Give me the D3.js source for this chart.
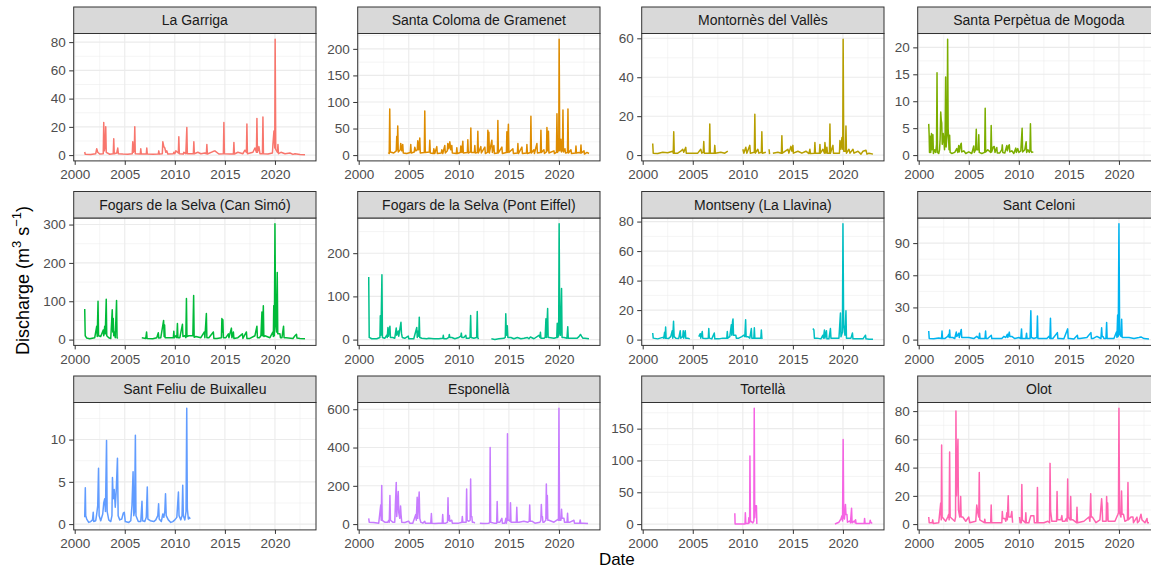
<!DOCTYPE html>
<html>
<head>
<meta charset="utf-8">
<script src="https://cdn.jsdelivr.net/npm/d3@7"></script>
<style>
body { margin: 0; background: #fff; }
svg { display: block; font-family: "Liberation Sans", Arial, sans-serif; }
</style>
</head>
<body>
<svg id="chart" width="1151" height="570"></svg>
<script>
// station names, in facet order
const stations = ["La Garriga", "Santa Coloma de Gramenet", "Montornès del Vallès", "Santa Perpètua de Mogoda",
  "Fogars de la Selva (Can Simó)", "Fogars de la Selva (Pont Eiffel)", "Montseny (La Llavina)", "Sant Celoni",
  "Sant Feliu de Buixalleu", "Esponellà", "Tortellà", "Olot"];

// ggplot hue palette, 12 levels
const colours = ["#F8766D", "#DE8C00", "#B79F00", "#7CAE00", "#00BA38", "#00C08B",
  "#00BFC4", "#00B4F0", "#619CFF", "#C77CFF", "#F564E3", "#FF64B0"];

// [decimal year, discharge]; null = gap in the record
const laGarriga = [[2001.0,2.2],[2001.05,0.6],[2001.6,0.5],[2002.1,1],[2002.2,4.5],[2002.3,2],[2002.5,0.8],[2002.85,1],[2002.9,23],[2002.96,3],[2003.05,8],[2003.1,20],[2003.15,2],[2003.5,0.6],[2003.85,1],[2003.9,11.5],[2003.95,1],[2004.2,1.5],[2004.3,5],[2004.36,1],[2004.8,0.7],[2005.3,0.6],[2005.75,1],[2005.8,9.5],[2005.85,2],[2005.95,3],[2006.0,20],[2006.05,1],[2006.55,0.8],[2006.6,4.5],[2006.65,0.8],[2007.15,0.7],[2007.2,5],[2007.25,0.7],[2007.8,0.6],[2008.35,0.8],[2008.4,3],[2008.45,0.7],[2008.75,1],[2008.8,9.5],[2008.9,6],[2009.0,5],[2009.1,2],[2009.2,3],[2009.3,0.8],[2009.85,1],[2009.9,2],[2010.0,1],[2010.1,3],[2010.35,1.5],[2010.4,13],[2010.45,1],[2010.85,0.8],[2010.9,2],[2011.1,1],[2011.2,19.5],[2011.25,1],[2011.85,1],[2011.9,9.5],[2011.95,1],[2012.3,2],[2012.6,1],[2013.0,1.5],[2013.15,1],[2013.2,7.5],[2013.25,0.8],[2013.8,2.5],[2014.0,3],[2014.4,0.8],[2014.85,1],[2014.9,23],[2014.95,1],[2015.5,0.7],[2015.85,0.8],[2015.9,9],[2015.95,0.8],[2016.3,2],[2016.8,1],[2017.0,3.5],[2017.15,2],[2017.2,22],[2017.25,1],[2017.8,2],[2018.0,5],[2018.15,2],[2018.2,26],[2018.25,2],[2018.4,6],[2018.5,1],[2018.75,1],[2018.8,27],[2018.85,1],[2019.3,0.8],[2019.75,1.5],[2019.8,8],[2019.9,17],[2019.98,5],[2020.02,82],[2020.08,4],[2020.25,2],[2020.3,7.5],[2020.35,1],[2020.6,2],[2021.0,1],[2021.5,1.5],[2021.8,0.5],[2022.0,1],[2022.5,0.5],[2023.0,0.3]];

const santaColoma = [[2002.95,5],[2003.05,3],[2003.1,87],[2003.15,6],[2003.5,4],[2003.75,8],[2003.8,35],[2003.85,10],[2003.9,55],[2003.95,6],[2004.15,10],[2004.2,22],[2004.3,8],[2004.4,20],[2004.45,4],[2004.8,3],[2005.15,5],[2005.2,20],[2005.25,4],[2005.55,6],[2005.6,15],[2005.7,8],[2005.85,10],[2005.9,27],[2006.0,10],[2006.1,32],[2006.15,4],[2006.55,5],[2006.6,83],[2006.65,5],[2007.05,6],[2007.1,28],[2007.15,4],[2007.45,3],[2007.5,12],[2007.6,3],[2007.8,16],[2007.85,3],[2008.25,4],[2008.3,10],[2008.4,3],[2008.6,18],[2008.65,4],[2008.85,8],[2008.9,22],[2009.0,12],[2009.1,25],[2009.2,10],[2009.3,18],[2009.35,4],[2009.75,3],[2009.8,14],[2009.85,3],[2010.15,5],[2010.2,17],[2010.3,5],[2010.4,26],[2010.45,4],[2010.85,5],[2010.9,29],[2010.95,4],[2011.15,6],[2011.2,51],[2011.25,5],[2011.55,5],[2011.6,18],[2011.65,4],[2011.85,5],[2011.9,45],[2011.95,4],[2012.2,16],[2012.25,4],[2012.6,15],[2012.65,3],[2012.85,5],[2012.9,47],[2012.95,6],[2013.0,43],[2013.05,4],[2013.3,28],[2013.35,5],[2013.5,18],[2013.55,3],[2013.85,4],[2013.9,65],[2013.95,4],[2014.3,15],[2014.35,3],[2014.75,5],[2014.8,44],[2014.85,5],[2014.95,58],[2015.0,5],[2015.4,12],[2015.45,3],[2015.85,4],[2015.9,22],[2015.95,3],[2016.3,15],[2016.35,3],[2016.75,4],[2016.8,20],[2016.85,3],[2017.15,5],[2017.2,73],[2017.25,4],[2017.5,10],[2017.55,3],[2017.8,22],[2017.85,4],[2018.15,5],[2018.2,47],[2018.25,5],[2018.5,10],[2018.55,3],[2018.75,6],[2018.8,52],[2018.9,8],[2018.95,45],[2019.0,4],[2019.5,8],[2019.55,3],[2019.75,5],[2019.8,78],[2019.85,5],[2019.98,10],[2020.02,218],[2020.08,8],[2020.2,30],[2020.25,6],[2020.35,10],[2020.4,85],[2020.45,6],[2020.6,12],[2020.65,4],[2020.85,5],[2020.9,87],[2020.95,4],[2021.2,10],[2021.25,3],[2021.65,4],[2021.7,17],[2021.75,4],[2022.0,5],[2022.15,4],[2022.2,19],[2022.25,4],[2022.5,8],[2022.55,2],[2022.8,5],[2023.0,3]];

const montornes = [[2001.0,6],[2001.05,1],[2001.5,0.8],[2002.0,1.5],[2002.5,1.2],[2003.0,2],[2003.05,1],[2003.1,12],[2003.15,1],[2003.5,1],[2003.8,2],[2004.0,3],[2004.1,1.5],[2004.3,4],[2004.35,1],[2004.9,1],[2005.5,1],[2005.8,3],[2005.9,1],[2006.05,1.5],[2006.1,7],[2006.15,1],[2006.65,1],[2006.7,16],[2006.75,1],[2007.15,1],[2007.2,5],[2007.25,1],[2007.8,1.5],[2008.2,1],[2008.5,2],[2008.55,null],
  [2010.0,3],[2010.1,1],[2010.3,4],[2010.4,1],[2010.7,5],[2010.75,1],[2011.15,1.5],[2011.2,21],[2011.25,1],[2011.5,3],[2011.6,1],[2011.85,1.5],[2011.9,12],[2011.95,1],[2012.3,1.5],[2012.35,null],[2012.62,3],[2012.67,0.5],[2012.7,null],
  [2013.0,1],[2013.5,1.5],[2013.85,1],[2013.9,10],[2013.95,1],[2014.5,3],[2014.6,1],[2014.8,4.5],[2014.9,2],[2015.0,5],[2015.05,1],[2015.5,2],[2015.9,1],[2016.3,2],[2016.6,0.8],[2016.7,3],[2016.75,0.8],[2017.15,1],[2017.2,6.5],[2017.25,1],[2017.65,1],[2017.7,5.5],[2017.75,1],[2018.0,3],[2018.15,1],[2018.2,6.5],[2018.3,1],[2018.4,4],[2018.45,1],[2018.65,1],[2018.7,16],[2018.75,1],[2019.0,5],[2019.05,1],[2019.65,1],[2019.7,7.5],[2019.8,3],[2019.9,9],[2019.98,3],[2020.02,59.5],[2020.08,2],[2020.25,2],[2020.3,15],[2020.35,1],[2020.6,3],[2020.7,1],[2021.0,3],[2021.1,1],[2021.5,2],[2021.8,0.5],[2022.0,2],[2022.3,2.5],[2022.4,0.5],[2022.6,1],[2023.0,0.5]];

const santaPerpetua = [[2001.0,5.8],[2001.04,4],[2001.08,0.5],[2001.15,3.5],[2001.2,0.5],[2001.28,4],[2001.33,1],[2001.42,3.8],[2001.47,0.3],[2001.6,1],[2001.7,0.5],[2001.78,2],[2001.83,15.3],[2001.88,0.5],[2002.0,0.3],[2002.08,1],[2002.14,3],[2002.2,8],[2002.25,6.5],[2002.3,6],[2002.35,2],[2002.45,4],[2002.5,3],[2002.58,1],[2002.64,4.3],[2002.69,14.5],[2002.74,1.5],[2002.84,4],[2002.89,21.5],[2002.94,5],[2002.99,3],[2003.03,1],[2003.09,3.7],[2003.14,0.5],[2003.3,0.3],[2003.6,0.5],[2003.8,1.2],[2003.9,0.5],[2004.0,1.8],[2004.05,0.6],[2004.2,2],[2004.25,2.2],[2004.3,0.6],[2004.5,0.8],[2004.7,0.3],[2005.0,0.6],[2005.3,0.3],[2005.5,1.7],[2005.55,0.5],[2005.68,1],[2005.75,4.8],[2005.8,1],[2005.95,1],[2006.0,3.8],[2006.05,0.5],[2006.3,0.3],[2006.59,0.5],[2006.64,8.7],[2006.69,0.6],[2006.9,1],[2007.19,0.5],[2007.24,5.5],[2007.29,0.6],[2007.45,1.5],[2007.55,1.6],[2007.62,0.5],[2007.8,1.4],[2007.85,0.4],[2008.1,0.4],[2008.3,1],[2008.35,1.9],[2008.4,0.5],[2008.6,0.4],[2008.8,1.8],[2008.85,0.8],[2009.0,1.8],[2009.05,1.9],[2009.1,0.6],[2009.3,0.8],[2009.5,0.3],[2009.7,1.3],[2009.75,0.5],[2009.9,1.2],[2010.0,0.5],[2010.2,0.8],[2010.33,5],[2010.38,0.6],[2010.5,0.8],[2010.6,1],[2010.73,2.5],[2010.78,0.5],[2010.9,1],[2011.05,0.5],[2011.11,1],[2011.16,5.8],[2011.21,0.8],[2011.3,0.5],[2011.45,0.6]];

const canSimo = [[2001.0,80],[2001.05,10],[2001.2,4],[2001.5,2],[2002.0,5],[2002.2,35],[2002.25,8],[2002.33,100],[2002.38,10],[2002.6,8],[2002.85,25],[2002.9,10],[2003.0,35],[2003.05,15],[2003.15,105],[2003.2,10],[2003.4,5],[2003.6,3],[2003.75,78],[2003.8,20],[2003.85,55],[2003.9,10],[2004.0,20],[2004.05,5],[2004.18,102],[2004.23,5],[2004.3,3],[2004.35,null],
  [2006.7,5],[2007.1,3],[2007.18,20],[2007.23,3],[2007.8,2],[2008.2,5],[2008.35,18],[2008.4,4],[2008.6,5],[2008.88,50],[2008.93,8],[2008.98,38],[2009.03,5],[2009.3,5],[2009.85,5],[2009.9,22],[2009.95,5],[2010.1,10],[2010.2,5],[2010.26,42],[2010.31,5],[2010.5,5],[2010.76,40],[2010.81,8],[2011.0,10],[2011.1,5],[2011.16,107],[2011.21,8],[2011.4,10],[2011.8,10],[2011.88,115],[2011.93,6],[2012.1,8],[2012.6,5],[2012.95,20],[2013.0,5],[2013.15,68],[2013.2,5],[2013.4,5],[2013.85,20],[2013.9,3],[2014.2,3],[2014.65,5],[2014.7,55],[2014.75,20],[2014.8,52],[2014.85,5],[2015.1,5],[2015.35,15],[2015.4,5],[2015.65,30],[2015.7,5],[2015.85,20],[2015.9,3],[2016.3,5],[2016.75,15],[2016.8,3],[2017.15,20],[2017.2,3],[2017.5,3],[2018.0,10],[2018.2,35],[2018.25,5],[2018.45,5],[2018.6,10],[2018.7,72],[2018.75,10],[2018.84,88],[2018.89,8],[2019.0,10],[2019.5,5],[2019.8,20],[2019.84,8],[2019.88,88],[2019.94,10],[2020.0,302],[2020.07,40],[2020.15,20],[2020.23,175],[2020.28,15],[2020.5,15],[2020.55,5],[2020.7,5],[2020.86,35],[2020.91,5],[2021.1,5],[2021.8,3],[2022.0,10],[2022.15,14],[2022.2,4],[2022.5,3],[2023.0,2]];

const pontEiffel = [[2001.0,145],[2001.05,5],[2001.3,2],[2001.8,2],[2002.12,5],[2002.16,55],[2002.22,10],[2002.32,150],[2002.37,5],[2002.6,3],[2002.8,10],[2002.85,5],[2002.92,28],[2002.98,8],[2003.12,31],[2003.17,5],[2003.4,5],[2003.6,3],[2003.75,27],[2003.8,10],[2003.95,20],[2004.0,8],[2004.22,40],[2004.27,15],[2004.35,5],[2004.6,3],[2004.95,8],[2005.0,2],[2005.5,2],[2005.8,28],[2005.85,5],[2005.95,20],[2006.0,8],[2006.05,52],[2006.1,5],[2006.3,3],[2006.8,2],[2007.0,3],[2007.5,2],[2008.0,2],[2008.4,3],[2008.45,10],[2008.5,2],[2008.8,2],[2009.0,5],[2009.05,12],[2009.1,5],[2009.3,5],[2009.6,2],[2010.0,5],[2010.2,8],[2010.25,15],[2010.3,5],[2010.5,5],[2010.7,10],[2010.75,3],[2011.0,3],[2011.12,5],[2011.18,56],[2011.23,5],[2011.5,3],[2011.78,5],[2011.84,65],[2011.89,5],[2011.97,1],[2012.0,null],
  [2013.25,2],[2013.6,0.5],[2014.0,2],[2014.5,3],[2014.64,5],[2014.69,60],[2014.75,10],[2014.84,32],[2014.9,5],[2015.2,5],[2015.5,2],[2015.85,5],[2016.2,2],[2016.5,3],[2016.85,5],[2017.0,2],[2017.15,6],[2017.5,2],[2018.0,10],[2018.1,5],[2018.15,17],[2018.2,3],[2018.5,3],[2018.62,5],[2018.7,48],[2018.75,5],[2018.87,72],[2018.92,5],[2019.0,5],[2019.5,3],[2019.78,5],[2019.83,38],[2019.88,5],[2019.97,10],[2020.02,268],[2020.08,20],[2020.15,10],[2020.26,118],[2020.31,5],[2020.5,5],[2020.8,3],[2020.88,30],[2020.93,3],[2021.1,3],[2021.8,3],[2022.0,7],[2022.15,12],[2022.25,8],[2022.4,3],[2022.6,3],[2023.0,2]];

const montseny = [[2001.0,4.5],[2001.05,1],[2001.5,0.5],[2002.0,1.5],[2002.1,1],[2002.19,5],[2002.24,1],[2002.29,8.5],[2002.34,1],[2002.6,0.8],[2002.8,2],[2002.95,6],[2003.0,1],[2003.08,12.5],[2003.14,2],[2003.3,1],[2003.6,0.8],[2003.75,6],[2003.8,1],[2004.0,2],[2004.05,6],[2004.1,1],[2004.25,6],[2004.3,1],[2004.5,1],[2004.7,0.5],[2004.75,null],
  [2005.6,2],[2005.75,4],[2005.8,1],[2005.95,5.5],[2006.0,1],[2006.3,0.8],[2006.55,1],[2006.6,7.5],[2006.65,1],[2006.9,0.5],[2007.15,4.5],[2007.2,0.5],[2007.6,0.5],[2008.0,1],[2008.4,1],[2008.45,5.5],[2008.5,1],[2008.7,2],[2008.85,10],[2008.9,3],[2008.97,12],[2009.02,14],[2009.07,3],[2009.3,3],[2009.35,1],[2009.6,1],[2009.9,2],[2010.1,3],[2010.2,2],[2010.28,13.5],[2010.33,2],[2010.5,2],[2010.7,1],[2010.85,7.5],[2010.9,1],[2011.1,1],[2011.15,8],[2011.2,1],[2011.5,1],[2011.8,1],[2011.85,6.5],[2011.9,1],[2011.95,0.5],[2012.0,null],
  [2017.0,7.5],[2017.1,6.5],[2017.15,1],[2017.4,1],[2017.8,0.5],[2018.0,3],[2018.05,1],[2018.15,6.5],[2018.2,1],[2018.35,6],[2018.4,0.5],[2018.6,0.5],[2018.75,7.5],[2018.8,1],[2019.0,1],[2019.6,1],[2019.75,18],[2019.8,2],[2019.95,5],[2020.0,78.5],[2020.07,10],[2020.2,3],[2020.3,19.5],[2020.35,1],[2020.45,1],[2020.8,1],[2020.95,4.5],[2021.0,0.5],[2021.5,0.5],[2022.0,0.5],[2022.25,3],[2022.3,0.5],[2022.6,0.3],[2023.0,0.3]];

const santCeloni = [[2001.0,8],[2001.05,1],[2001.5,0.8],[2002.0,1.5],[2002.28,1],[2002.33,8],[2002.38,1],[2002.6,1],[2002.9,3],[2003.0,5],[2003.04,2],[2003.09,9],[2003.14,2],[2003.4,2],[2003.6,1],[2003.75,7],[2003.8,3],[2003.9,4],[2004.0,6],[2004.05,2],[2004.25,9.5],[2004.3,2],[2004.5,2],[2005.0,2],[2005.5,1],[2005.8,3],[2006.02,1],[2006.08,6],[2006.13,1],[2006.3,1],[2006.62,1],[2006.68,8],[2006.73,1],[2006.9,1],[2007.25,4],[2007.3,1],[2007.6,1],[2008.3,1],[2008.5,3],[2008.7,2],[2008.85,5],[2008.9,2],[2009.05,7],[2009.1,3],[2009.3,3],[2009.6,1],[2010.0,2],[2010.2,1],[2010.27,10],[2010.32,1],[2010.5,1],[2010.7,1],[2010.77,6],[2010.82,1],[2011.12,1],[2011.2,27],[2011.25,2],[2011.5,1],[2011.8,2],[2011.86,22],[2011.91,1],[2012.1,1],[2012.8,1],[2013.0,3],[2013.1,1],[2013.16,20],[2013.21,1],[2013.4,1],[2013.85,6.5],[2013.9,1],[2014.1,1],[2014.5,0.8],[2014.88,10],[2014.93,1],[2015.1,1],[2015.5,0.5],[2015.85,4],[2015.9,1],[2016.1,1],[2016.8,2],[2017.2,6.5],[2017.25,1],[2017.4,1],[2017.8,3],[2018.0,2],[2018.2,1],[2018.27,11],[2018.32,3],[2018.4,3],[2018.5,1],[2018.7,1],[2018.77,16],[2018.82,1],[2019.0,1],[2019.5,1],[2019.75,7],[2019.8,2],[2019.87,23],[2019.93,3],[2020.0,108],[2020.07,5],[2020.2,3],[2020.27,19],[2020.32,2],[2020.5,2],[2021.0,2],[2021.5,1],[2022.0,2],[2022.2,2.5],[2022.5,1],[2023.0,0.5]];

const santFeliu = [[2001.0,0.8],[2001.06,4.3],[2001.1,1],[2001.2,0.6],[2001.4,0.2],[2001.6,0.3],[2001.78,0.5],[2001.85,1.4],[2001.9,0.3],[2002.1,0.4],[2002.2,1.2],[2002.3,2.2],[2002.38,6.6],[2002.44,1],[2002.6,0.4],[2002.8,1.2],[2002.9,2.5],[2003.0,3],[2003.07,1.5],[2003.18,9.9],[2003.24,1.5],[2003.4,0.5],[2003.6,0.3],[2003.72,1],[2003.77,5.5],[2003.85,3],[2003.95,4.1],[2004.05,2],[2004.15,4],[2004.27,7.8],[2004.34,1],[2004.5,0.5],[2004.7,0.6],[2004.85,1.3],[2004.95,1.4],[2005.05,0.3],[2005.4,0.2],[2005.6,0.4],[2005.72,2.2],[2005.83,6.2],[2005.9,1],[2005.98,1.5],[2006.06,10.5],[2006.12,1],[2006.35,0.3],[2006.6,0.3],[2006.72,2.7],[2006.78,0.4],[2007.0,0.3],[2007.15,0.8],[2007.25,4.4],[2007.31,0.6],[2007.55,0.4],[2007.9,0.3],[2008.1,0.5],[2008.3,1],[2008.38,2.4],[2008.44,0.6],[2008.65,0.3],[2008.8,1.2],[2008.9,0.8],[2009.0,1.5],[2009.07,3.6],[2009.14,1],[2009.35,0.5],[2009.6,0.2],[2009.8,0.3],[2010.0,0.5],[2010.2,0.8],[2010.36,3.8],[2010.42,1],[2010.6,0.5],[2010.72,1],[2010.79,4.6],[2010.85,1],[2011.0,0.5],[2011.12,1.5],[2011.19,13.7],[2011.25,1.8],[2011.35,0.6],[2011.45,0.8],[2011.52,0.6]];

const esponella = [[2001.0,30],[2001.05,10],[2001.5,8],[2002.0,5],[2002.2,100],[2002.25,20],[2002.3,202],[2002.35,20],[2002.6,10],[2002.9,10],[2003.0,20],[2003.05,10],[2003.12,150],[2003.17,20],[2003.4,10],[2003.6,10],[2003.75,218],[2003.8,40],[2003.95,170],[2004.0,60],[2004.1,30],[2004.18,95],[2004.23,50],[2004.3,10],[2004.6,8],[2004.8,12],[2005.0,15],[2005.1,5],[2005.4,5],[2005.7,50],[2005.75,20],[2005.84,140],[2005.9,30],[2006.04,168],[2006.1,30],[2006.2,10],[2006.4,5],[2006.6,15],[2006.65,5],[2006.9,5],[2007.2,5],[2007.26,55],[2007.31,5],[2007.6,3],[2008.0,5],[2008.34,5],[2008.39,50],[2008.44,5],[2008.7,5],[2008.87,10],[2008.92,138],[2008.97,20],[2009.05,45],[2009.1,15],[2009.3,20],[2009.35,5],[2009.6,5],[2010.0,5],[2010.3,10],[2010.35,40],[2010.4,10],[2010.6,10],[2010.73,10],[2010.78,183],[2010.83,20],[2011.0,15],[2011.13,20],[2011.18,235],[2011.23,40],[2011.3,40],[2011.35,10],[2011.5,10],[2011.6,5],[2011.65,null],
  [2012.1,5],[2012.5,3],[2013.0,5],[2013.08,10],[2013.13,400],[2013.18,10],[2013.5,5],[2013.78,5],[2013.83,118],[2013.88,10],[2014.1,10],[2014.3,30],[2014.35,5],[2014.6,5],[2014.7,30],[2014.75,5],[2014.81,20],[2014.86,472],[2014.91,20],[2015.05,20],[2015.11,15],[2015.16,112],[2015.21,10],[2015.4,10],[2015.74,10],[2015.79,88],[2015.84,10],[2016.0,10],[2016.5,15],[2016.9,10],[2017.03,15],[2017.08,100],[2017.13,15],[2017.3,15],[2017.6,5],[2018.1,10],[2018.19,20],[2018.24,102],[2018.29,40],[2018.35,40],[2018.4,10],[2018.5,10],[2018.69,20],[2018.74,210],[2018.79,30],[2018.84,150],[2018.89,20],[2019.0,20],[2019.5,10],[2019.9,25],[2019.95,20],[2020.0,605],[2020.06,20],[2020.2,20],[2020.26,78],[2020.31,30],[2020.5,30],[2020.55,10],[2020.7,10],[2020.81,10],[2020.86,57],[2020.91,10],[2021.1,10],[2021.5,20],[2021.55,5],[2021.8,5],[2022.07,5],[2022.12,22],[2022.17,5],[2022.4,5],[2022.9,3]];

const tortella = [[2009.2,17],[2009.23,0.2],[2010.22,0.2],[2010.25,18],[2010.3,1],[2010.55,1],[2010.6,10],[2010.65,2],[2010.68,2],[2010.71,107],[2010.76,5],[2011.0,2],[2011.1,5],[2011.14,182],[2011.19,10],[2011.24,29],[2011.36,29],[2011.4,0.2],[2011.45,null],
  [2019.2,0.2],[2019.6,3],[2019.8,8],[2019.9,13],[2019.96,5],[2020.02,133],[2020.08,10],[2020.15,8],[2020.25,31],[2020.3,15],[2020.4,15],[2020.45,3],[2020.7,5],[2020.75,2],[2020.86,25],[2020.91,2],[2021.15,5],[2021.22,2],[2021.26,7],[2021.31,1],[2022.0,1],[2022.12,1],[2022.16,9],[2022.21,1],[2022.67,1],[2022.72,6],[2022.78,3],[2022.92,1]];

const olot = [[2001.0,5],[2001.05,1],[2001.35,1],[2001.4,3],[2001.45,0.5],[2002.0,1],[2002.2,15],[2002.25,3],[2002.29,56],[2002.34,5],[2002.7,2],[2002.9,5],[2003.0,7],[2003.04,3],[2003.09,51],[2003.14,5],[2003.6,2],[2003.68,5],[2003.72,80],[2003.78,20],[2003.92,60],[2003.97,10],[2004.1,5],[2004.19,19.5],[2004.24,5],[2004.4,5],[2004.7,2],[2005.0,5],[2005.1,1],[2005.7,2],[2005.8,13.5],[2005.9,8],[2006.0,5],[2006.05,36.5],[2006.1,3],[2006.55,1],[2006.6,3.5],[2006.65,1],[2006.9,1],[2007.19,1],[2007.24,13.5],[2007.29,1],[2008.0,1],[2008.3,1],[2008.35,9],[2008.4,4],[2008.6,4],[2008.7,2],[2008.8,8],[2008.85,3],[2008.94,20],[2008.99,5],[2009.2,5],[2009.3,9],[2009.38,1],[2009.42,null],
  [2010.07,5],[2010.12,1],[2010.25,1],[2010.3,28],[2010.35,3],[2010.65,1],[2010.7,8],[2010.75,1],[2011.0,1],[2011.2,6],[2011.5,6],[2011.55,1],[2011.8,1],[2011.86,26],[2011.91,1],[2012.5,1],[2012.9,2],[2013.07,1],[2013.12,43],[2013.17,9.5],[2013.3,2],[2013.5,2],[2013.77,2],[2013.82,23],[2013.87,3],[2014.2,3],[2014.3,6],[2014.35,2],[2014.6,2],[2014.75,4],[2014.82,2],[2014.88,32],[2014.93,5],[2015.12,3],[2015.18,19.5],[2015.23,3],[2015.4,3],[2015.76,1],[2015.81,12],[2015.86,1],[2016.5,2],[2017.0,5],[2017.1,2],[2017.18,21.5],[2017.23,5],[2017.35,5],[2017.7,1],[2018.1,3],[2018.27,18],[2018.32,12],[2018.37,2],[2018.55,2],[2018.72,2],[2018.77,19.5],[2018.82,3],[2018.87,15],[2018.92,2],[2019.6,2],[2019.9,7],[2019.95,8],[2020.0,82],[2020.06,8],[2020.2,5],[2020.26,23.5],[2020.31,7],[2020.45,7],[2020.6,2],[2020.85,3],[2020.9,29.5],[2020.95,3],[2021.2,5],[2021.4,5],[2021.45,1],[2021.8,5],[2021.85,1],[2022.0,2],[2022.2,7],[2022.3,3],[2022.6,1],[2022.8,4],[2022.85,1],[2023.0,1]];

const series = [laGarriga, santaColoma, montornes, santaPerpetua, canSimo, pontEiffel,
  montseny, santCeloni, santFeliu, esponella, tortella, olot];

// y breaks per facet (free scales)
const yBreaks = [[0,20,40,60,80], [0,50,100,150,200], [0,20,40,60], [0,5,10,15,20],
  [0,100,200,300], [0,100,200], [0,20,40,60,80], [0,30,60,90],
  [0,5,10], [0,200,400,600], [0,50,100,150], [0,20,40,60,80]];
const xBreaks = [2000, 2005, 2010, 2015, 2020];

// layout
const colLeft = [73.7, 357.7, 641.7, 917.7];
const rowTop = [7, 191.5, 376];
const panelW = 242.3, stripH = 26.5, plotH = 127.4;

const svg = d3.select('#chart');

// shared x scale, ggplot-style 5% expansion
const dates = series.flat().map(d => d[0]);
const [dx0, dx1] = d3.extent(dates);
const xpad = (dx1 - dx0) * 0.05;
const x = d3.scaleLinear().domain([dx0 - xpad, dx1 + xpad]).range([0, panelW]);

// minor breaks: midpoints, plus one step past each end if it fits
const minorOf = (br, dom) => {
  const step = br[1] - br[0], out = [];
  for (let i = 0; i < br.length - 1; i++) out.push((br[i] + br[i + 1]) / 2);
  out.push(br[0] - step / 2, br[br.length - 1] + step / 2);
  return out.filter(v => v > dom[0] && v < dom[1]);
};

const xMinor = minorOf(xBreaks, x.domain());

stations.forEach((name, i) => {
  const g = svg.append('g')
    .attr('transform', `translate(${colLeft[i % 4]},${rowTop[Math.floor(i / 4)]})`);
  const top = stripH, bottom = stripH + plotH;

  const vals = series[i].filter(d => d[1] != null).map(d => d[1]);
  const ymax = d3.max(vals), ymin = 0;
  const ypad = (ymax - ymin) * 0.05;
  const y = d3.scaleLinear().domain([ymin - ypad, ymax + ypad]).range([bottom, top]);

  // panel background + grid
  g.append('rect').attr('x', 0).attr('y', top).attr('width', panelW).attr('height', plotH).attr('fill', '#fff');

  const grid = g.append('g').attr('stroke', '#EBEBEB');
  grid.selectAll('line.ymin').data(minorOf(yBreaks[i], y.domain())).enter().append('line')
    .attr('x1', 0).attr('x2', panelW).attr('y1', d => y(d)).attr('y2', d => y(d)).attr('stroke-width', 0.55);
  grid.selectAll('line.xmin').data(xMinor).enter().append('line')
    .attr('y1', top).attr('y2', bottom).attr('x1', d => x(d)).attr('x2', d => x(d)).attr('stroke-width', 0.55);
  grid.selectAll('line.ymaj').data(yBreaks[i]).enter().append('line')
    .attr('x1', 0).attr('x2', panelW).attr('y1', d => y(d)).attr('y2', d => y(d)).attr('stroke-width', 1.1);
  grid.selectAll('line.xmaj').data(xBreaks).enter().append('line')
    .attr('y1', top).attr('y2', bottom).attr('x1', d => x(d)).attr('x2', d => x(d)).attr('stroke-width', 1.1);

  // the series
  const clipId = 'clip' + i;
  g.append('clipPath').attr('id', clipId).append('rect')
    .attr('x', 0).attr('y', top).attr('width', panelW).attr('height', plotH);
  const line = d3.line().defined(d => d[1] != null).x(d => x(d[0])).y(d => y(d[1]));
  g.append('path').datum(series[i])
    .attr('clip-path', `url(#${clipId})`)
    .attr('fill', 'none').attr('stroke', colours[i]).attr('stroke-width', 1.5)
    .attr('stroke-linejoin', 'round')
    .attr('d', line);

  // border
  g.append('rect').attr('x', 0).attr('y', top).attr('width', panelW).attr('height', plotH)
    .attr('fill', 'none').attr('stroke', '#333333').attr('stroke-width', 1);

  // strip
  g.append('rect').attr('x', 0).attr('y', 0).attr('width', panelW).attr('height', stripH)
    .attr('fill', '#D9D9D9').attr('stroke', '#333333').attr('stroke-width', 1);
  g.append('text').attr('x', panelW / 2).attr('y', stripH / 2).attr('dy', '0.36em')
    .attr('text-anchor', 'middle').attr('fill', '#1A1A1A').attr('font-size', 14).text(name);

  // axes
  const ya = g.append('g').call(d3.axisLeft(y).tickValues(yBreaks[i]).tickSize(4.5).tickPadding(3.5));
  const xa = g.append('g').attr('transform', `translate(0,${bottom})`)
    .call(d3.axisBottom(x).tickValues(xBreaks).tickFormat(d3.format('d')).tickSize(4).tickPadding(5));
  [ya, xa].forEach(a => {
    a.select('.domain').remove();
    a.selectAll('.tick line').attr('stroke', '#333333');
    a.selectAll('.tick text').attr('fill', '#4D4D4D').attr('font-size', 13.5)
      .attr('font-family', '"Liberation Sans", Arial, sans-serif');
  });
});

// axis titles
svg.append('text').attr('x', (colLeft[0] + colLeft[3] + panelW) / 2).attr('y', 565)
  .attr('text-anchor', 'middle').attr('font-size', 17).attr('fill', '#000').text('Date');

const yt = svg.append('text')
  .attr('transform', `translate(29,${(rowTop[0] + rowTop[2] + stripH + plotH) / 2 + 12}) rotate(-90)`)
  .attr('text-anchor', 'middle').attr('font-size', 18).attr('fill', '#000');
yt.append('tspan').text('Discharge (m');
yt.append('tspan').attr('font-size', 13).attr('dy', -8).text('3');
yt.append('tspan').attr('dy', 8).text(' s');
yt.append('tspan').attr('font-size', 13).attr('dy', -8).text('\u22121');
yt.append('tspan').attr('dy', 8).text(')');
</script>
</body>
</html>
